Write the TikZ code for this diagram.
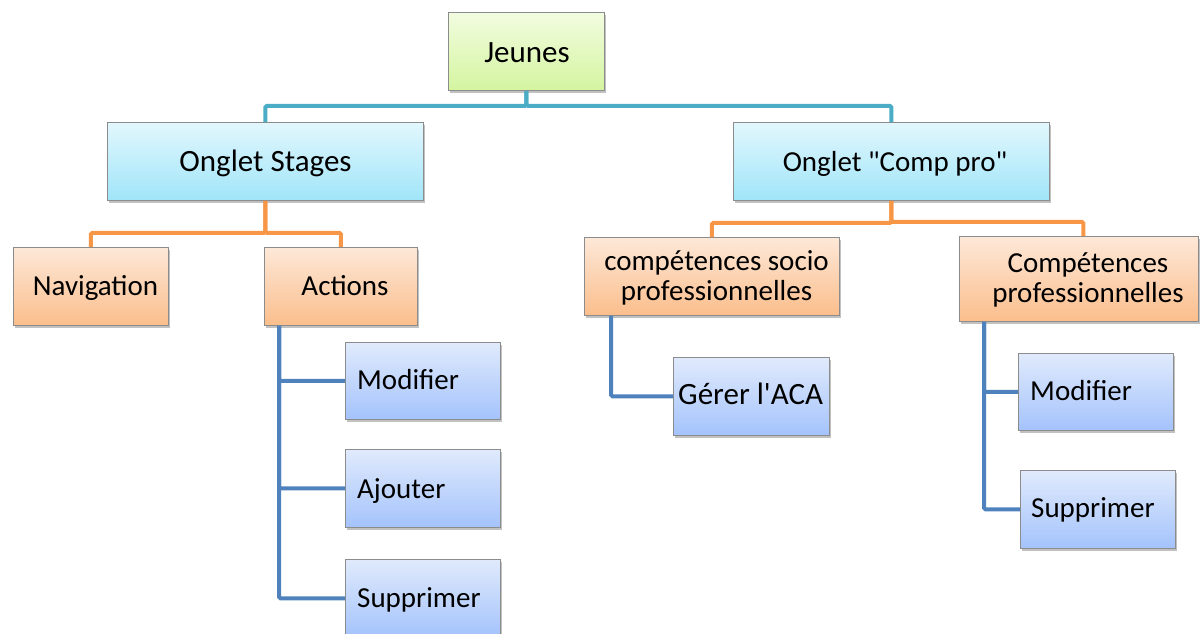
\documentclass[tikz,border=0pt]{standalone}
\usepackage{fontspec}
\setmainfont{Carlito}
\newfontfamily\calib{Carlito}
\usetikzlibrary{shadows,calc}
\definecolor{tealc}{RGB}{75,172,198}
\definecolor{orngc}{RGB}{247,150,70}
\definecolor{bluc}{RGB}{79,129,189}
\definecolor{bordc}{RGB}{140,140,140}
\begin{document}
\begin{tikzpicture}[x=1pt,y=-1pt,
  box/.style={draw=bordc, line width=0.8pt, anchor=north west, inner sep=0pt,
    drop shadow={shadow xshift=1.8pt,shadow yshift=-2.2pt,opacity=0.35,fill=black!70}},
  gbox/.style={box, top color={rgb,255:red,242;green,252;blue,224}, bottom color={rgb,255:red,212;green,245;blue,160}},
  cbox/.style={box, top color={rgb,255:red,226;green,247;blue,253}, bottom color={rgb,255:red,160;green,229;blue,249}},
  obox/.style={box, top color={rgb,255:red,253;green,232;blue,216}, bottom color={rgb,255:red,251;green,190;blue,140}},
  bbox/.style={box, top color={rgb,255:red,224;green,234;blue,252}, bottom color={rgb,255:red,164;green,195;blue,252}},
  txt/.style={inner sep=0pt, anchor=base, font=\calib\fontsize{29}{30}\selectfont},
  txtl/.style={txt, anchor=base west},
  big/.style={font=\calib\fontsize{31}{32}\selectfont},
  tline/.style={draw=tealc, line width=4pt, rounded corners=1.5pt},
  oline/.style={draw=orngc, line width=4pt, rounded corners=1.5pt},
  bline/.style={draw=bluc, line width=4pt, rounded corners=1.5pt}]
\useasboundingbox (0,0) rectangle (1200,633);

% boxes
\node[gbox, minimum width=156pt, minimum height=78pt] (J) at (448,12) {};
\node[cbox, minimum width=316pt, minimum height=78pt] (OS) at (107,122) {};
\node[cbox, minimum width=316pt, minimum height=78pt] (CP) at (733,122) {};
\node[obox, minimum width=155pt, minimum height=78pt] (NAV) at (13,247) {};
\node[obox, minimum width=153pt, minimum height=78pt] (ACT) at (264,247) {};
\node[bbox, minimum width=155pt, minimum height=77pt] (M1) at (345,342) {};
\node[bbox, minimum width=155pt, minimum height=78pt] (AJ) at (345,449) {};
\node[bbox, minimum width=155pt, minimum height=78pt] (S1) at (345,559) {};
\node[obox, minimum width=255pt, minimum height=78pt] (SOC) at (584,237) {};
\node[obox, minimum width=239pt, minimum height=85pt] (PRO) at (959,236) {};
\node[bbox, minimum width=156pt, minimum height=78pt] (GA) at (673,357) {};
\node[bbox, minimum width=155pt, minimum height=77pt] (M2) at (1018,353) {};
\node[bbox, minimum width=155pt, minimum height=78pt] (S2) at (1020,470) {};

% connectors
\draw[tline] (J.south) -- ($(J.south)+(0,15)$) -| (OS.north);
\draw[tline] (J.south) -- ($(J.south)+(0,15)$) -| (CP.north);
\draw[oline] (OS.south) -- ($(OS.south)+(0,32)$) -| (NAV.north);
\draw[oline] (OS.south) -- ($(OS.south)+(0,32)$) -| (ACT.north);
\draw[oline] (CP.south) -- ($(CP.south)+(0,22)$) -| (SOC.north);
\draw[oline] (CP.south) -- ($(CP.south)+(0,21)$) -| ($(PRO.north)+(4.5,0)$);
\draw[bline] ($(ACT.south west)+(15,0)$) |- (M1.west);
\draw[bline] ($(ACT.south west)+(15,0)$) |- (AJ.west);
\draw[bline] ($(ACT.south west)+(15,0)$) |- (S1.west);
\draw[bline] ($(SOC.south west)+(27,0)$) |- (GA.west);
\draw[bline] ($(PRO.south west)+(25,0)$) |- (M2.west);
\draw[bline] ($(PRO.south west)+(25,0)$) |- (S2.west);

% texts
\node[txt, big] (tJ) at (527,62) {Jeunes};
\node[txt, big] (tOS) at (265.5,171) {Onglet Stages};
\node[txt] (tCP) at (895,171) {Onglet "Comp pro"};
\node[txt] (tNAV) at (95.5,295) {Navigation};
\node[txt] (tACT) at (345,295) {Actions};
\node[txtl] (tM1) at (357,389) {Modifier};
\node[txtl] (tAJ) at (357,498) {Ajouter};
\node[txtl] (tS1) at (357,607) {Supprimer};
\node[txt] (tSOCa) at (716.5,270.5) {compétences socio};
\node[txt] (tSOCb) at (716.5,300.5) {professionnelles};
\node[txt] (tPROa) at (1088,272) {Compétences};
\node[txt] (tPROb) at (1088,302) {professionnelles};
\node[txtl, big] (tGA) at (678,404) {Gérer l'ACA};
\node[txtl] (tM2) at (1030,400) {Modifier};
\node[txtl] (tS2) at (1031,517) {Supprimer};
\end{tikzpicture}
\end{document}
